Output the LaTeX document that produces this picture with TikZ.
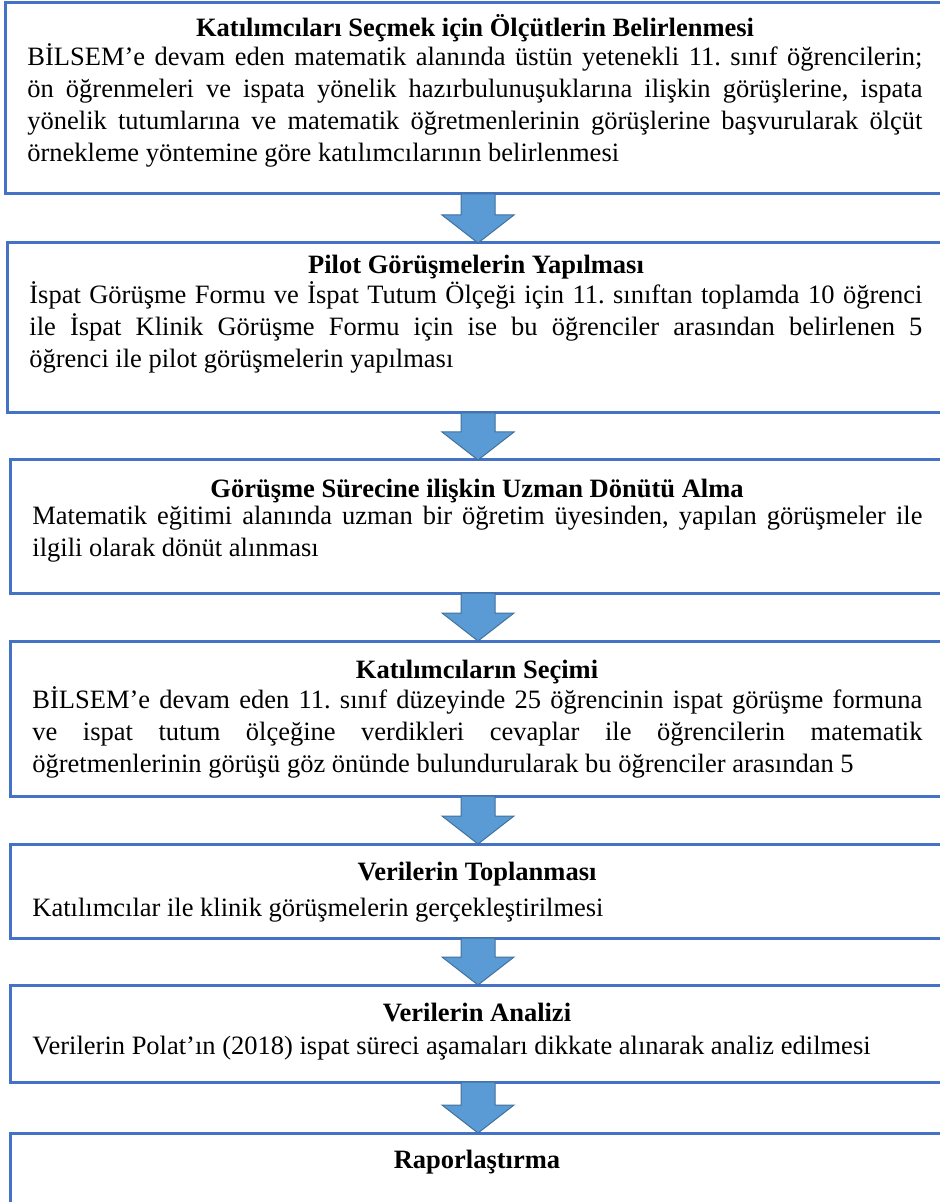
\documentclass[tikz,border=0pt]{standalone}
\usepackage{fontspec}
\setmainfont{Liberation Serif}
\usetikzlibrary{calc,fit}
\definecolor{boxline}{HTML}{4472C4}
\definecolor{arrowfill}{HTML}{5B9BD5}
\definecolor{arrowline}{HTML}{41719C}
\hyphenpenalty=10000
\tolerance=9999
\hbadness=10000
\hfuzz=20pt
\frenchspacing
\newcommand\stepfont{\fontsize{13.25}{16}\selectfont}

\tikzset{
  stepbox/.style={draw=boxline,line width=1.5pt,inner sep=0pt,outer sep=0pt,fill=white},
  headtext/.style={font=\stepfont\bfseries,anchor=base,inner sep=0pt},
  bodytext/.style={font=\stepfont,anchor=north west,inner sep=0pt,align=justify,text width=#1},
  bodytext/.default=445pt,
  downarrow/.style={fill=arrowfill,draw=arrowline,line width=0.5pt,line join=miter}
}
% block arrow from the bottom of one box to the top of the next
\newcommand\flowarrow[2]{%
  \draw[downarrow] ($(#1.south -| ax)+(-17,0)$) -- ($(#1.south -| ax)+(17,0)$)
    -- ($(#2.north -| ax)+(17,-28)$) -- ($(#2.north -| ax)+(36,-28)$)
    -- (#2.north -| ax) -- ($(#2.north -| ax)+(-36,-28)$)
    -- ($(#2.north -| ax)+(-17,-28)$) -- cycle;}
\newcommand\topstrut{\rule{0pt}{14pt}}

\begin{document}
\begin{tikzpicture}[x=0.5pt,y=-0.5pt]
  \useasboundingbox (0,0) rectangle (940,1202);
  \coordinate (ax) at (478,0);

  % Boxes
  \node[stepbox,fit={(5,3) (1010,194)}] (b1) {};
  \node[stepbox,fit={(7,243) (1010,413)}] (b2) {};
  \node[stepbox,fit={(10,460) (1010,593)}] (b3) {};
  \node[stepbox,fit={(10,641) (1010,796)}] (b4) {};
  \node[stepbox,fit={(10,844) (1010,938)}] (b5) {};
  \node[stepbox,fit={(10,985) (1010,1082)}] (b6) {};
  \node[stepbox,fit={(10,1133) (1010,1260)}] (b7) {};

  % Step 1
  \node[headtext] (h1) at (475,37) {Katılımcıları Seçmek için Ölçütlerin Belirlenmesi};
  \node[bodytext=447.5pt] (p1) at (27,37) {\topstrut BİLSEM’e devam eden matematik alanında üstün yetenekli 11. sınıf öğrencilerin;\linebreak
    ön öğrenmeleri ve ispata yönelik hazırbulunuşuklarına ilişkin görüşlerine, ispata\linebreak
    yönelik tutumlarına ve matematik öğretmenlerinin görüşlerine başvurularak ölçüt\linebreak
    örnekleme yöntemine göre katılımcılarının belirlenmesi};

  % Step 2
  \node[headtext] (h2) at (476,274) {Pilot Görüşmelerin Yapılması};
  \node[bodytext=446.5pt] (p2) at (29,275) {\topstrut İspat Görüşme Formu ve İspat Tutum Ölçeği için 11. sınıftan toplamda 10 öğrenci\linebreak
    ile İspat Klinik Görüşme Formu için ise bu öğrenciler arasından belirlenen 5\linebreak
    öğrenci ile pilot görüşmelerin yapılması};

  % Step 3
  \node[headtext] (h3) at (477,497) {Görüşme Sürecine ilişkin Uzman Dönütü Alma};
  \node[bodytext] (p3) at (32,496) {\topstrut Matematik eğitimi alanında uzman bir öğretim üyesinden, yapılan görüşmeler ile\linebreak
    ilgili olarak dönüt alınması};

  % Step 4 (text runs on past the box)
  \node[headtext] (h4) at (477,678) {Katılımcıların Seçimi};
  \node[bodytext] (p4) at (32,680) {\parfillskip=0pt\topstrut BİLSEM’e devam eden 11. sınıf düzeyinde 25 öğrencinin ispat görüşme formuna\linebreak
    ve ispat tutum ölçeğine verdikleri cevaplar ile öğrencilerin matematik\linebreak
    öğretmenlerinin görüşü göz önünde bulundurularak bu öğrenciler arasından 5};

  % Steps 5-7
  \node[headtext] (h5) at (477,880) {Verilerin Toplanması};
  \node[bodytext] (p5) at (32,888) {\topstrut Katılımcılar ile klinik görüşmelerin gerçekleştirilmesi};
  \node[headtext] (h6) at (477,1021) {Verilerin Analizi};
  \node[bodytext] (p6) at (32,1026) {\topstrut Verilerin Polat’ın (2018) ispat süreci aşamaları dikkate alınarak analiz edilmesi};
  \node[headtext] (h7) at (477,1168) {Raporlaştırma};

  % Arrows
  \flowarrow{b1}{b2}
  \flowarrow{b2}{b3}
  \flowarrow{b3}{b4}
  \flowarrow{b4}{b5}
  \flowarrow{b5}{b6}
  \flowarrow{b6}{b7}
\end{tikzpicture}
\end{document}
